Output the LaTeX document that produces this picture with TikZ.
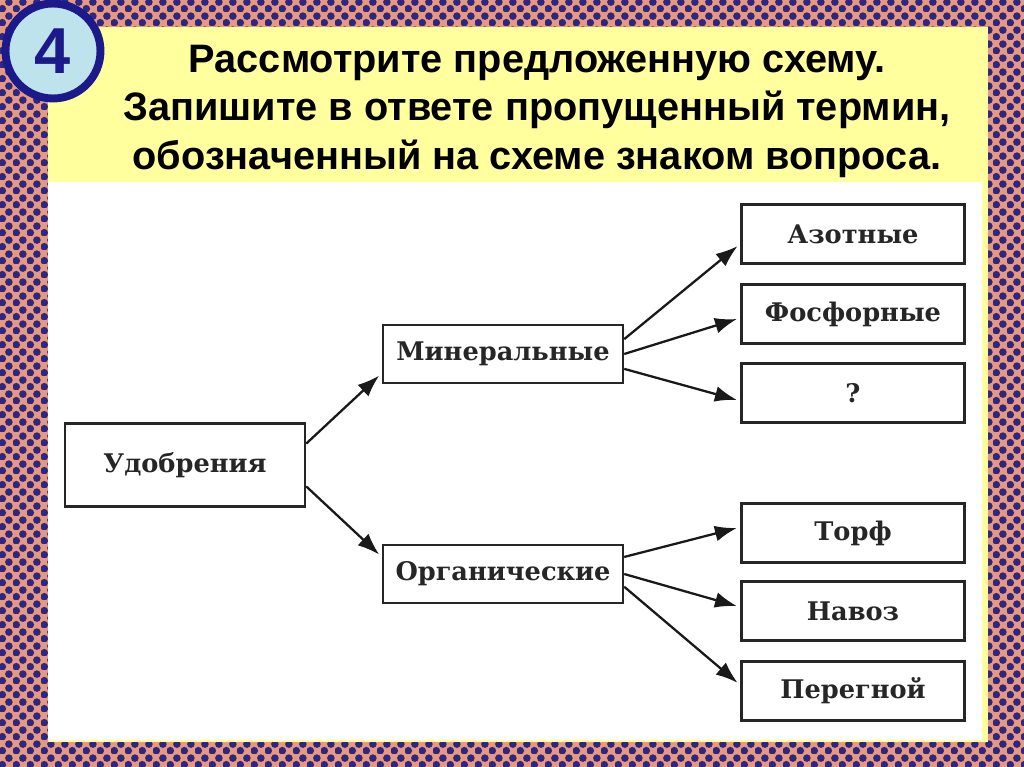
\documentclass[tikz,border=0pt]{standalone}
\usepackage{fontspec}
\setmainfont{Liberation Sans}
\newfontfamily\schfont{DejaVu Serif}
\usepackage{tikz}
\usetikzlibrary{arrows.meta}
\usetikzlibrary{patterns}
\usetikzlibrary{calc}
\definecolor{fonsalmon}{HTML}{E8987C}
\definecolor{fonnavy}{HTML}{2C2783}
\definecolor{panelyellow}{HTML}{FFFF9E}
\definecolor{krugblue}{HTML}{BFE3EC}
\definecolor{krugnavy}{HTML}{1C1A8A}
\pgfdeclarepatternformonly{navydots}{\pgfpointorigin}{\pgfqpoint{8pt}{8pt}}{\pgfqpoint{8pt}{8pt}}{
  \pgfpathcircle{\pgfqpoint{2pt}{2pt}}{2.3pt}
  \pgfpathcircle{\pgfqpoint{6pt}{6pt}}{2.3pt}
  \pgfusepath{fill}}
\tikzset{
  schbox/.style={draw=black!85, line width=1.4pt, fill=white, inner sep=0pt,
    font=\schfont\bfseries\fontsize{14.6}{16}\selectfont, text=black!85},
  bigbox/.style={schbox, minimum width=4.8cm, minimum height=1.66cm},
  midbox/.style={schbox, minimum width=4.8cm, minimum height=1.16cm},
  endbox/.style={schbox, minimum width=4.46cm, minimum height=1.18cm},
  strel/.style={-{Latex[length=12.5pt,width=9pt]}, line width=1.3pt, black!90, shorten >=2pt}
}
\begin{document}
\begin{tikzpicture}[x=0.02cm, y=-0.02cm]
	\useasboundingbox (0,0) rectangle (1024,767);
	% background
	\fill[fonsalmon] (0,0) rectangle (1024,767);
	\fill[pattern=navydots, pattern color=fonnavy] (0,0) rectangle (1024,767);
	\fill[panelyellow] (48,27) rectangle (988,742);
	\fill[white] (48,182) rectangle (982,740);
	
	% task number
	\node[circle, draw=krugnavy, line width=4.5pt, fill=krugblue, minimum size=1.9cm,
	  text=krugnavy, font=\bfseries\fontsize{37}{37}\selectfont] (nomer) at (53,51) {4};
	
	\node[align=center, font=\bfseries\fontsize{22.6}{27.6}\selectfont] (zadanie) at (537,111)
	  {Рассмотрите предложенную схему.\\Запишите в ответе пропущенный термин,\\обозначенный на схеме знаком вопроса.};
	
	% scheme
	\node[bigbox] (udobr) at (185,465) {Удобрения};
	\node[midbox] (miner) at (503,354) {Минеральные};
	\node[midbox] (organ) at (503,574) {Органические};
	
	\node[endbox] (azot) at (853,234) {Азотные};
	\node[endbox] (fosfor) at (853,314) {Фосфорные};
	\node[endbox] (vopros) at (853,393) {?};
	\node[endbox] (torf) at (853,533) {Торф};
	\node[endbox] (navoz) at (853,611) {Навоз};
	\node[endbox] (peregn) at (853,691) {Перегной};
	
	\draw[strel] (udobr.10) -- (miner.189);
	\draw[strel] (udobr.-10) -- (organ.172);
	
	\draw[strel] (miner.7) -- (azot.185);
	\draw[strel] (miner.0) -- (fosfor.182);
	\draw[strel] (miner.-7) -- (vopros.184);
	
	\draw[strel] (organ.8) -- (torf.177);
	\draw[strel] (organ.0) -- (navoz.178);
	\draw[strel] (organ.-6) -- (peregn.177);
\end{tikzpicture}
\end{document}
